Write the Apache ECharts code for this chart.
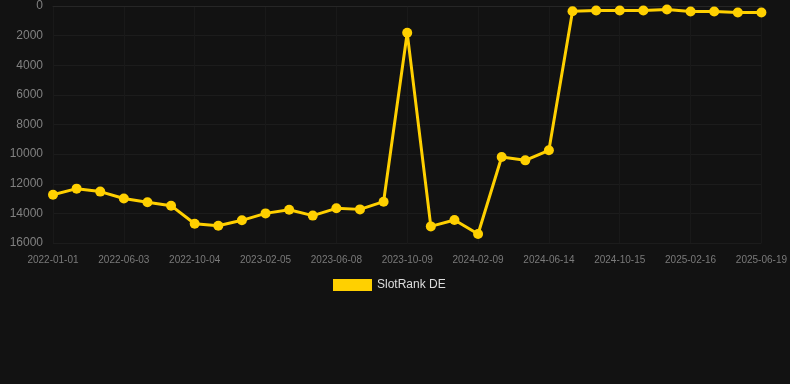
<!DOCTYPE html>
<html><head><meta charset="utf-8">
<script src="https://cdn.jsdelivr.net/npm/echarts@6/dist/echarts.min.js"></script>
<style>html,body{margin:0;padding:0;background:#121212;}#c{width:790px;height:384px;}</style>
</head><body><div id="c"></div>
<script>
const categories = [
 "2022-01-01","2022-02-21","2022-04-13","2022-06-03","2022-07-14","2022-08-24","2022-10-04","2022-11-15","2022-12-26",
 "2023-02-05","2023-03-18","2023-04-28","2023-06-08","2023-07-19","2023-08-29","2023-10-09","2023-11-19","2023-12-30",
 "2024-02-09","2024-03-21","2024-05-03","2024-06-14","2024-07-25","2024-09-04","2024-10-15","2024-11-25","2025-01-06",
 "2025-02-16","2025-03-29","2025-05-09","2025-06-19"
];
const slotRankDE = [
 12740, 12330, 12530, 13000, 13250, 13480, 14700, 14830, 14470,
 14000, 13750, 14150, 13660, 13730, 13210, 1810, 14880, 14450,
 15390, 10190, 10420, 9740, 350, 300, 300, 300, 240, 370, 370, 440, 440
];
const yTicks = {min: 0, max: 16000, interval: 2000};

const chart = echarts.init(document.getElementById('c'));
chart.setOption({
  backgroundColor: '#121212',
  animation: false,
  grid: {left: 53, right: 28, top: 6, bottom: 141},
  legend: {
    top: 274, left: 328,
    itemWidth: 39, itemHeight: 12, itemGap: 10,
    icon: 'rect',
    textStyle: {color: '#dddddd', fontSize: 12, fontFamily: 'Liberation Sans, Arial, sans-serif'},
    data: ['SlotRank DE']
  },
  xAxis: {
    type: 'category', data: categories, boundaryGap: false,
    axisLine: {show: true, lineStyle: {color: '#262626'}},
    axisTick: {show: false},
    axisLabel: {interval: 2, color: '#7a7a7a', fontSize: 10, margin: 12, fontFamily: 'Liberation Sans, Arial, sans-serif'},
    splitLine: {show: true, interval: 2, lineStyle: {color: '#191919', width: 1}}
  },
  yAxis: {
    type: 'value', inverse: true, min: yTicks.min, max: yTicks.max, interval: yTicks.interval,
    axisLine: {show: false}, axisTick: {show: false},
    axisLabel: {color: '#808080', fontSize: 12, margin: 10, formatter: v => String(v), fontFamily: 'Liberation Sans, Arial, sans-serif'},
    splitLine: {lineStyle: {color: '#1c1c1c', width: 1}}
  },
  series: [{
    name: 'SlotRank DE', type: 'line', data: slotRankDE,
    symbol: 'circle', symbolSize: 10,
    lineStyle: {color: '#FFD000', width: 3},
    itemStyle: {color: '#FFD000'},
    color: '#FFD000'
  }]
});
</script></body></html>
